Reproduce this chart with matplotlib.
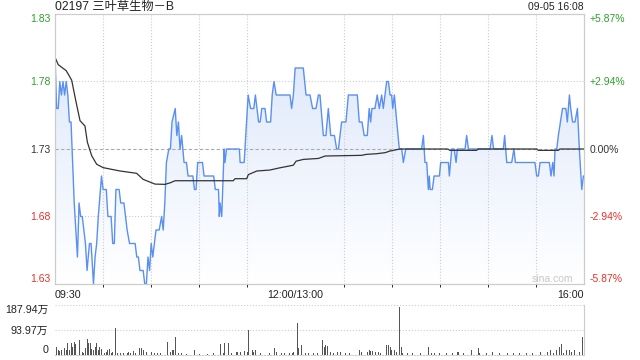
import numpy as np
import matplotlib
matplotlib.use('Agg')
import matplotlib.pyplot as plt
from matplotlib.colors import LinearSegmentedColormap

plt.rcParams['font.family'] = ['Liberation Sans', 'Noto Sans CJK SC', 'DejaVu Sans']

# minutes since 09:30 (lunch break removed), 0..330
price_t = [0, 1, 2, 3, 4, 5, 6, 7, 8, 9, 10, 11, 12, 14, 15, 16, 17, 18, 19, 20,
           21.5, 22.5, 24, 25, 26, 27, 29, 30, 32, 33, 35, 36, 37, 38, 40, 41, 43,
           44, 45, 46.5, 50, 51, 52, 53, 55, 56, 57, 58, 59, 60, 61, 62, 63, 65,
           66.5, 67.5, 68.5, 69.5, 71, 72, 73, 75, 76, 77, 78, 79, 80.5, 82, 83,
           86, 87, 88, 89, 92, 93, 99, 100, 102, 102.5, 103, 104, 105.5, 106, 107,
           115, 115.5, 118, 119, 120.5, 122, 124, 125, 127, 128, 129, 131, 132,
           134.5, 135.5, 136.6, 138, 146.6, 147.6, 148.7, 149.8, 154.9, 156.6,
           159.1, 160.7, 162.8, 164.3, 165.3, 167.4, 169, 170.5, 172, 174.3,
           175.7, 176.8, 178.8, 181.5, 183, 188.6, 189.8, 191.5, 192.9, 194.8,
           196, 196.9, 197.7, 199.6, 201, 202.3, 203.8, 204.8, 206.9, 208, 209,
           210, 210.7, 211.7, 213.2, 214.8, 216.3, 217.3, 218.8, 228.7, 229.8,
           230.8, 231.9, 232.9, 233.5, 234, 235.4, 236.5, 239.8, 240.6, 245.4,
           246, 247.5, 249, 250.2, 251, 255.8, 256.8, 257.9, 271.4, 272.6, 273.6,
           279.7, 280.5, 281.8, 284.9, 286.3, 287.2, 299.4, 300.5, 301.5, 302.6,
           308.4, 309.4, 310.5, 311.3, 311.9, 313, 314, 316.6, 318.7, 319.6,
           320.9, 321.7, 322.9, 324.4, 325.9, 327.1, 328.6, 329.6, 330]
price = [1.80, 1.76, 1.76, 1.78, 1.77, 1.78, 1.77, 1.78, 1.77, 1.75, 1.75, 1.72,
         1.69, 1.65, 1.69, 1.68, 1.68, 1.67, 1.66, 1.64, 1.66, 1.66, 1.63, 1.65,
         1.66, 1.68, 1.71, 1.70, 1.70, 1.68, 1.68, 1.66, 1.66, 1.70, 1.70, 1.69,
         1.69, 1.68, 1.67, 1.66, 1.66, 1.65, 1.65, 1.64, 1.64, 1.63, 1.63, 1.65,
         1.64, 1.66, 1.65, 1.66, 1.67, 1.67, 1.68, 1.67, 1.69, 1.72, 1.73, 1.73,
         1.75, 1.76, 1.74, 1.75, 1.73, 1.74, 1.72, 1.72, 1.71, 1.71, 1.70, 1.70,
         1.72, 1.72, 1.71, 1.71, 1.70, 1.70, 1.68, 1.69, 1.68, 1.73, 1.72, 1.73,
         1.73, 1.72, 1.72, 1.74, 1.77, 1.76, 1.76, 1.77, 1.75, 1.75, 1.76, 1.76,
         1.75, 1.75, 1.77, 1.78, 1.77, 1.77, 1.76, 1.77, 1.79, 1.79, 1.77, 1.77,
         1.76, 1.76, 1.77, 1.77, 1.74, 1.74, 1.76, 1.74, 1.74, 1.73, 1.73, 1.75,
         1.75, 1.77, 1.77, 1.75, 1.75, 1.74, 1.74, 1.76, 1.75, 1.76, 1.76, 1.77,
         1.76, 1.77, 1.76, 1.78, 1.78, 1.77, 1.77, 1.76, 1.77, 1.75, 1.73, 1.73,
         1.72, 1.73, 1.73, 1.74, 1.72, 1.72, 1.70, 1.71, 1.70, 1.70, 1.71, 1.71,
         1.72, 1.72, 1.71, 1.73, 1.73, 1.72, 1.73, 1.73, 1.74, 1.73, 1.73, 1.74,
         1.73, 1.73, 1.74, 1.72, 1.72, 1.73, 1.72, 1.72, 1.71, 1.71, 1.72, 1.72,
         1.71, 1.72, 1.71, 1.73, 1.73, 1.74, 1.76, 1.76, 1.75, 1.77, 1.76, 1.75,
         1.75, 1.76, 1.73, 1.70, 1.71, 1.71]

avg_t = [0, 2, 7, 10.4, 13.1, 15.6, 18.7, 20.2, 22.9, 26, 30, 40.6, 50.9, 55,
         62.4, 68.6, 72, 74.9, 111.2, 112.3, 119.6, 120.6, 125.9, 134, 140,
         148.7, 150.4, 155, 164.3, 168.5, 191.3, 194, 200.6, 206, 209, 215.2,
         245, 246.4, 263, 264, 300.5, 301.5, 314, 315, 330]
avg = [1.798, 1.7925, 1.788, 1.781, 1.765, 1.751, 1.747, 1.735, 1.725, 1.7187,
       1.7162, 1.7137, 1.712, 1.7075, 1.704, 1.7038, 1.705, 1.7065, 1.7065,
       1.708, 1.708, 1.711, 1.7137, 1.7144, 1.716, 1.718, 1.721, 1.7223, 1.723,
       1.7248, 1.7253, 1.726, 1.7265, 1.7273, 1.7285, 1.730, 1.730, 1.729,
       1.729, 1.730, 1.730, 1.729, 1.729, 1.730, 1.730]

# volume in 万 shares
vol_t = [0, 1, 2, 3, 4, 5, 6, 7, 8, 9, 10, 11, 12, 13, 15, 17, 18, 19, 20, 21,
         22, 23, 24, 25, 26, 27, 28, 29, 31, 32, 33, 34, 35, 36, 38, 39, 41, 43,
         45, 46, 47, 49, 50, 53, 54, 55, 57, 60, 62, 64, 66, 68, 70, 72, 73, 74,
         75, 77, 79, 82, 87, 90, 95, 99, 103, 105, 106, 108, 110, 113, 114, 116,
         118, 120, 121, 123, 124, 125, 126, 128, 131, 134, 136, 137, 138, 141,
         143, 146, 148, 149, 151, 152, 154, 156, 158, 161, 164, 167, 168, 169,
         170, 172, 174, 176, 178, 181, 184, 190, 191, 194, 195, 196, 197, 198,
         200, 202, 203, 207, 208, 209, 210, 212, 213, 215, 216, 217, 220, 223,
         228, 233, 235, 237, 240, 244, 248, 251, 252, 255, 260, 262, 264, 265,
         269, 273, 277, 282, 286, 290, 294, 298, 303, 307, 309, 311, 313, 315,
         316, 317, 319, 321, 322, 324, 325, 327, 329, 330]
vol = [187.94, 31, 19, 15, 19, 12, 25, 19, 46, 19, 44, 31, 49, 41, 56, 12, 9,
       25, 59, 46, 44, 21, 19, 31, 44, 19, 31, 21, 9, 12, 19, 21, 9, 12, 100,
       6, 9, 6, 9, 10, 9, 15, 9, 25, 25, 19, 12, 12, 9, 9, 9, 9, 50, 12, 19,
       19, 69, 6, 9, 4, 19, 4, 4, 6, 41, 9, 44, 44, 6, 12, 12, 10, 15, 12, 94,
       19, 12, 19, 54, 9, 12, 6, 34, 25, 12, 6, 9, 6, 9, 12, 121, 25, 37, 9,
       6, 6, 6, 56, 31, 37, 34, 12, 9, 12, 12, 6, 6, 19, 12, 41, 12, 19, 16,
       16, 12, 12, 9, 37, 37, 31, 19, 19, 12, 180, 31, 9, 6, 6, 6, 29, 9, 9,
       6, 9, 9, 10, 10, 6, 19, 9, 25, 9, 9, 12, 6, 6, 6, 6, 9, 6, 12, 12, 19,
       9, 19, 31, 41, 6, 19, 19, 12, 19, 12, 12, 69, 19]

price_ticks = [1.63, 1.68, 1.73, 1.78, 1.83]
price_labels = ['1.63', '1.68', '1.73', '1.78', '1.83']
pct_labels = ['-5.87%', '-2.94%', '0.00%', '+2.94%', '+5.87%']
tick_colors = ['#e8312b', '#e8312b', '#333333', '#2ca02c', '#2ca02c']
time_ticks = [0, 150, 330]
time_labels = ['09:30', '12:00/13:00', '16:00']
grid_minutes = [30, 60, 90, 120, 150, 180, 210, 240, 270, 300]
vol_ticks = [0, 93.97, 187.94]
vol_labels = ['0', '93.97万', '187.94万']

fig = plt.figure(figsize=(6.4, 3.6), dpi=100)
ax = fig.add_axes([55 / 640, 1 - 284 / 360, 529 / 640, 270 / 360])
axv = fig.add_axes([55 / 640, 1 - 355 / 360, 529 / 640, 50 / 360])

# price panel
ax.set_xlim(0, 330)
ax.set_ylim(1.63, 1.83)
poly = ax.fill_between(price_t, price, 1.63, facecolor='none', edgecolor='none')
cmap = LinearSegmentedColormap.from_list('fill', ['#ffffff', '#d9e5fa'])
grad = np.linspace(0, 1, 256).reshape(-1, 1)
img = ax.imshow(grad, extent=[0, 330, 1.63, 1.83], origin='lower', aspect='auto',
                cmap=cmap, zorder=1)
img.set_clip_path(poly.get_paths()[0], transform=ax.transData)
ax.plot(price_t, price, color='#5a90f0', lw=1.0, zorder=3)
ax.plot(avg_t, avg, color='#333333', lw=0.9, zorder=4)

ax.set_xticks(grid_minutes, minor=True)
ax.grid(which='minor', axis='x', color='#cccccc', ls=':', lw=0.8)
ax.set_xticks(time_ticks)
ax.set_xticklabels(time_labels, fontsize=7.7, color='#222222')
for lab, ha in zip(ax.get_xticklabels(), ['left', 'center', 'right']):
    lab.set_ha(ha)
ax.tick_params(axis='x', length=0, pad=4)

ax.set_yticks(price_ticks)
ax.set_yticklabels(price_labels, fontsize=7.5)
for lab, c in zip(ax.get_yticklabels(), tick_colors):
    lab.set_color(c)
ax.get_yticklabels()[0].set_va('bottom')
ax.get_yticklabels()[-1].set_va('top')
ax.tick_params(axis='y', length=0, pad=3)
for yv in [1.68, 1.78]:
    ax.axhline(yv, color='#cccccc', ls=':', lw=0.8, zorder=0)
ax.axhline(1.73, color='#aaaaaa', ls=(0, (3, 2)), lw=0.8, zorder=2)

axr = ax.twinx()
axr.set_ylim(1.63, 1.83)
axr.set_yticks(price_ticks)
axr.set_yticklabels(pct_labels, fontsize=7.5)
for lab, c in zip(axr.get_yticklabels(), tick_colors):
    lab.set_color(c)
axr.get_yticklabels()[0].set_va('bottom')
axr.get_yticklabels()[-1].set_va('top')
axr.tick_params(axis='y', length=0, pad=4)

for a in (ax, axr):
    for s in a.spines.values():
        s.set_color('#cccccc')
        s.set_linewidth(0.8)

ax.text(0.0, 1 + 7.5 / 270, '02197 三叶草生物－B', transform=ax.transAxes,
        fontsize=8.8, color='#222222', ha='left', va='center')
ax.text(1.0, 1 + 7.5 / 270, '09-05 16:08', transform=ax.transAxes, fontsize=7.5,
        color='#222222', ha='right', va='center')
ax.text(0.979, 0.018, 'sina.com', transform=ax.transAxes, fontsize=7.5,
        color='#c8c8c8', ha='right', va='center', zorder=5)

# volume panel
axv.bar(vol_t, vol, width=0.6, color='#555555', zorder=3)
axv.set_xlim(0, 330)
axv.set_ylim(0, 187.94)
axv.set_xticks([])
axv.set_yticks(vol_ticks)
axv.set_yticklabels(vol_labels, fontsize=7.7, color='#222222')
axv.get_yticklabels()[0].set_va('bottom')
axv.get_yticklabels()[-1].set_va('top')
axv.tick_params(axis='y', length=0, pad=5)
axv.axhline(93.97, color='#cccccc', ls=':', lw=0.8, zorder=0)
axv.axhline(187.94, color='#cccccc', ls=':', lw=0.8, zorder=0)
axv.spines['top'].set_visible(False)
axv.spines['left'].set_visible(False)
axv.spines['right'].set_color('#cccccc')
axv.spines['bottom'].set_color('#cccccc')
axv.spines['bottom'].set_linestyle(':')

fig.savefig('out.png', dpi=100)
